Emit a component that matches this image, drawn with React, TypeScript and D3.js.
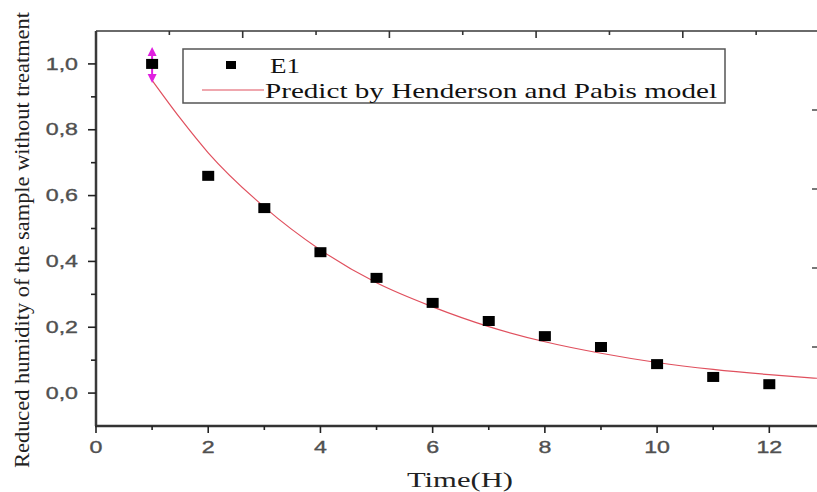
import React from "react";
import * as d3 from "d3";

const times = [1, 2, 3, 4, 5, 6, 7, 8, 9, 10, 11, 12];
const e1Values = [1.0, 0.66, 0.562, 0.428, 0.35, 0.274, 0.219, 0.173, 0.14, 0.088, 0.049, 0.027];
const modelTimes = [1, 1.5, 2, 3, 4, 5, 6, 7, 8, 9, 10, 11, 12, 12.85];
const modelValues = [0.95, 0.835, 0.73, 0.565, 0.435, 0.335, 0.262, 0.202, 0.156, 0.121, 0.093, 0.072, 0.056, 0.045];
const xTicks = [0, 2, 4, 6, 8, 10, 12];
const xMinor = [1, 3, 5, 7, 9, 11];
const yTicks = [0, 0.2, 0.4, 0.6, 0.8, 1.0];
const yMinor = [0.1, 0.3, 0.5, 0.7, 0.9];
const topTicks = [1, 2, 3, 4, 5, 6, 7, 8, 9];
const rightTicks = [1, 2, 3, 4];
const legendLabels = ["E1", "Predict by Henderson and Pabis model"];

const SX = 1.45;

function SText(props: { x: number; y: number; anchor?: string; size: number; family: string; fill: string; children: any; stroke?: string }) {
  const { x, y, anchor, size, family, fill, children } = props;
  return (
    <text
      transform={`translate(${x},${y}) scale(${SX},1)`}
      textAnchor={anchor || "start"}
      fontFamily={family}
      fontSize={size}
      fill={fill}
      stroke={props.stroke || "none"}
      strokeWidth={0.35}
    >
      {children}
    </text>
  );
}

export default function App() {
  const W = 817, H = 492;
  const left = 96, right = 817, top = 31, bottom = 426;
  const x = d3.scaleLinear().domain([0, 12.85]).range([left, right]);
  const y = d3.scaleLinear().domain([-0.1, 1.1]).range([bottom, top]);
  const xTop = d3.scaleLinear().domain([0, 10]).range([left, left + 733.5]);
  const yRight = d3.scaleLinear().domain([0, 5]).range([bottom, top]);
  const line = d3.line<number>()
    .x((_, i) => x(modelTimes[i]))
    .y((d) => y(d))
    .curve(d3.curveMonotoneX);
  const fmt = (v: number) => v.toFixed(1).replace(".", ",");
  const sans = "'Liberation Sans', Arial, sans-serif";
  const serif = "'Liberation Serif', 'Times New Roman', serif";
  const axisCol = "#505050";
  const red = "#e0505e";
  const mag = "#e020e0";
  const sqW = 12, sqH = 10;
  const px = x(1), py = y(1);

  return (
    <svg width={W} height={H} style={{ position: "absolute", left: 0, top: 0, background: "#fff" }}>
      <rect x={0} y={0} width={W} height={H} fill="#fff" />
      {/* top axis (secondary layer) */}
      <line x1={left} x2={right} y1={top} y2={top} stroke="#6a6a6a" strokeWidth={2.2} />
      {topTicks.map((t) => (
        <line key={"tt" + t} x1={xTop(t)} x2={xTop(t)} y1={top} y2={top + (t % 2 === 0 ? 7 : 4)} stroke="#333" strokeWidth={1.6} />
      ))}
      {/* right ticks (secondary layer) */}
      {rightTicks.map((v) => (
        <line key={"rt" + v} x1={812} x2={817} y1={yRight(v)} y2={yRight(v)} stroke="#555" strokeWidth={1.6} />
      ))}
      {/* left axis */}
      <line x1={left} x2={left} y1={top} y2={bottom} stroke="#3a3a3a" strokeWidth={2.5} />
      {yTicks.map((v) => (
        <g key={"y" + v}>
          <line x1={left - 8} x2={left} y1={y(v)} y2={y(v)} stroke="#222" strokeWidth={1.6} />
          <SText x={left - 18} y={y(v) + 5.6} anchor="end" size={16} family={sans} fill={axisCol} stroke={axisCol}>
            {fmt(v)}
          </SText>
        </g>
      ))}
      {yMinor.map((v) => (
        <line key={"ym" + v} x1={left - 5} x2={left} y1={y(v)} y2={y(v)} stroke="#222" strokeWidth={1.6} />
      ))}
      {/* bottom axis */}
      <line x1={left - 1} x2={right} y1={bottom} y2={bottom} stroke="#333" strokeWidth={2.5} />
      {xTicks.map((t) => (
        <g key={"x" + t}>
          <line x1={x(t)} x2={x(t)} y1={bottom} y2={bottom + 7} stroke="#222" strokeWidth={1.6} />
          <SText x={x(t)} y={bottom + 27} anchor="middle" size={16} family={sans} fill={axisCol} stroke={axisCol}>
            {t}
          </SText>
        </g>
      ))}
      {xMinor.map((t) => (
        <line key={"xm" + t} x1={x(t)} x2={x(t)} y1={bottom} y2={bottom + 4} stroke="#222" strokeWidth={1.6} />
      ))}
      {/* model curve */}
      <path d={line(modelValues) || ""} fill="none" stroke={red} strokeWidth={1.2} />
      {/* magenta double arrow at first point */}
      <line x1={px} x2={px} y1={py - 12} y2={py + 14} stroke={mag} strokeWidth={2} />
      <path d={`M${px - 4.5},${py - 8} L${px + 4.5},${py - 8} L${px},${py - 17} Z`} fill={mag} />
      <path d={`M${px - 4.5},${py + 10} L${px + 4.5},${py + 10} L${px},${py + 19} Z`} fill={mag} />
      {/* points */}
      {times.map((t, i) => (
        <rect key={"p" + t} x={x(t) - sqW / 2} y={y(e1Values[i]) - sqH / 2} width={sqW} height={sqH} fill="#000" />
      ))}
      {/* legend */}
      <rect x={183} y={49} width={542} height={54} fill="#fff" stroke="#555" strokeWidth={1.5} />
      <rect x={226} y={61} width={10} height={8} fill="#000" />
      <text x={270} y={73} fontFamily={serif} fontSize={21} fill="#111" textLength={30} lengthAdjust="spacingAndGlyphs">{legendLabels[0]}</text>
      <line x1={202} x2={264} y1={90} y2={90} stroke={red} strokeWidth={1.2} />
      <text x={265} y={98} fontFamily={serif} fontSize={21} fill="#111" textLength={452} lengthAdjust="spacingAndGlyphs">{legendLabels[1]}</text>
      {/* axis titles */}
      <text x={407} y={487} fontFamily={serif} fontSize={20} fill="#222" textLength={106} lengthAdjust="spacingAndGlyphs">Time(H)</text>
      <text transform={`translate(29,240) rotate(-90)`} textAnchor="middle" fontFamily={serif} fontSize={21} fill="#222" textLength={456} lengthAdjust="spacingAndGlyphs">
        Reduced humidity of the sample without treatment
      </text>
    </svg>
  );
}
